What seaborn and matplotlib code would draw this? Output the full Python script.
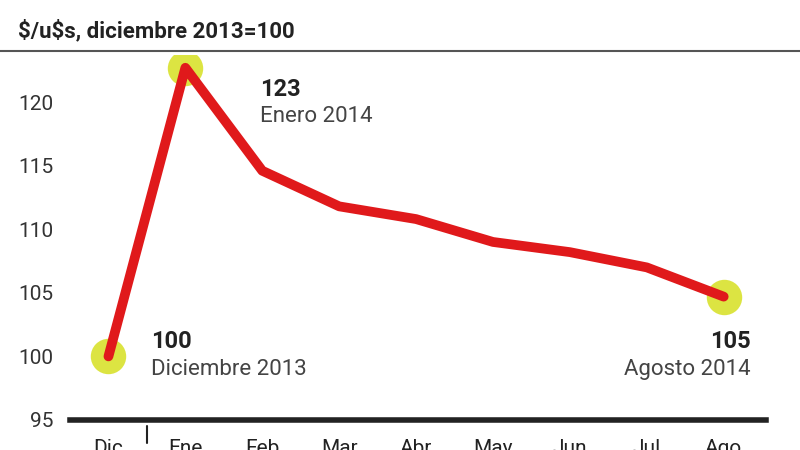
import matplotlib
matplotlib.use("Agg")
import matplotlib.pyplot as plt
import seaborn as sns
import pandas as pd

months = ["Dic", "Ene", "Feb", "Mar", "Abr", "May", "Jun", "Jul", "Ago"]
values = [100, 122.7, 114.6, 111.8, 110.8, 109.0, 108.2, 107.0, 104.7]
yticks = [95, 100, 105, 110, 115, 120]

sns.set_style("white")
plt.rcParams['font.family'] = ['Roboto', 'DejaVu Sans']
df = pd.DataFrame({"x": range(len(months)), "v": values})

fig = plt.figure(figsize=(8, 4.5), dpi=100)
ax = fig.add_axes([0.0875, 0.0667, 0.87, 0.811])
for i in [0, 1, 8]:
    ax.scatter(i, values[i], s=650, color="#d6e021", alpha=0.85, zorder=2, linewidths=0)
sns.lineplot(data=df, x="x", y="v", ax=ax, color="#e0191b", linewidth=7, zorder=3)
ax.set_xlim(-0.5, 8.55)
ax.set_ylim(95, 123.7)
ax.set_yticks(yticks)
ax.set_yticklabels([str(t) for t in yticks], fontsize=15, color="#333333")
ax.set_xticks(range(len(months)))
ax.set_xticklabels(months, fontsize=15, color="#222222")
ax.tick_params(axis="x", length=0, pad=14)
ax.tick_params(axis="y", length=0, pad=12)
ax.set_xlabel(""); ax.set_ylabel("")
for s in ["top", "right", "left"]:
    ax.spines[s].set_visible(False)
ax.spines["bottom"].set_linewidth(4)
ax.spines["bottom"].set_color("#222222")
ax.plot([0.5, 0.5], [93.2, 94.5], color="#222222", lw=1.5, clip_on=False)

ax.text(1.97, 121.0, "123", fontsize=17, fontweight="bold", color="#222222", va="center")
ax.text(1.97, 118.9, "Enero 2014", fontsize=16, color="#444444", va="center")
ax.text(0.55, 101.2, "100", fontsize=17, fontweight="bold", color="#222222", va="center")
ax.text(0.55, 99.0, "Diciembre 2013", fontsize=16, color="#444444", va="center")
ax.text(8.35, 101.2, "105", fontsize=17, fontweight="bold", color="#222222", va="center", ha="right")
ax.text(8.35, 99.0, "Agosto 2014", fontsize=16, color="#444444", va="center", ha="right")

fig.text(0.022, 0.93, r"\$/u\$s, diciembre 2013=100", fontsize=16, fontweight="bold",
         color="#222222", va="center")
fig.add_artist(plt.Line2D([0, 1], [0.887, 0.887], color="#555555", lw=1.5))
fig.savefig("out.png", dpi=100)
